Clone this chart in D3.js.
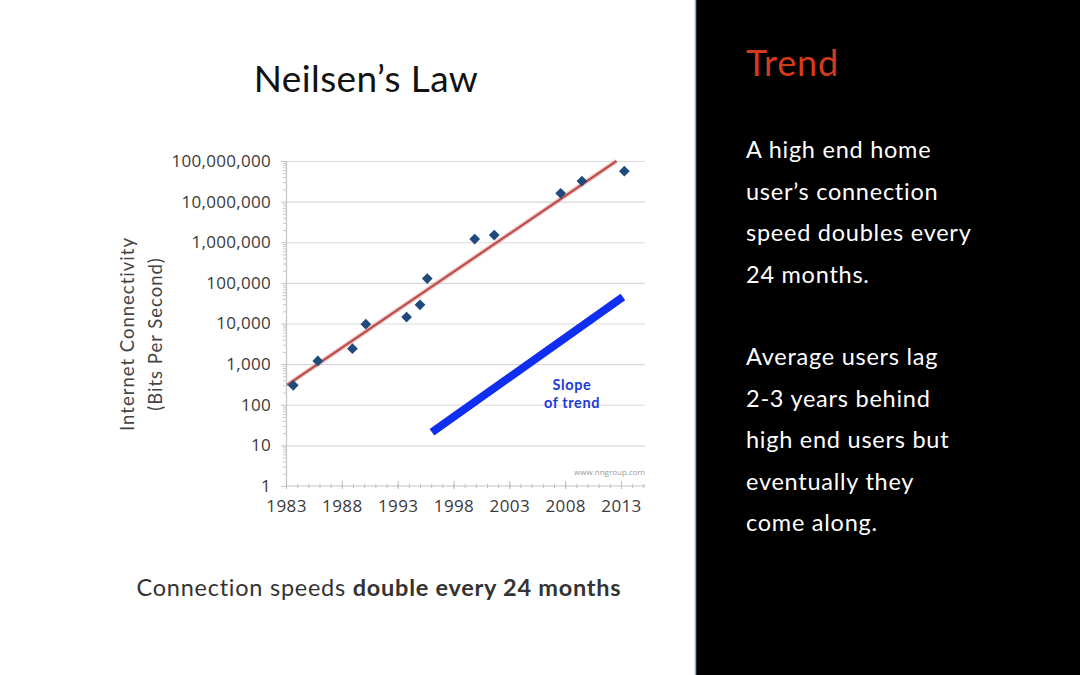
<!DOCTYPE html>
<html><head><meta charset="utf-8">
<script src="https://cdn.jsdelivr.net/npm/d3@7"></script>
<style>
html,body{margin:0;padding:0;background:#fff;}
svg{display:block;}
</style></head>
<body>
<svg id="chart" width="1080" height="675"></svg>
<script>
// ---- data ----
const years = [1983.65, 1985.85, 1988.95, 1990.15, 1993.8, 1995.0, 1995.65, 1999.9, 2001.65, 2007.6, 2009.5, 2013.3];
const speeds = [300, 1200, 2400, 9600, 14400, 28800, 128000, 1200000, 1500000, 16000000, 32000000, 56000000];
const trendYears = [1983.1, 2012.6];
const trendValues = [306, 100000000];
const slopeYears = [1996.07, 2013.17];
const slopeValues = [21, 45000];
const yTicks = [1, 10, 100, 1000, 10000, 100000, 1000000, 10000000, 100000000];
const xTicks = [1983, 1988, 1993, 1998, 2003, 2008, 2013];
const titleText = "Neilsen\u2019s Law";
const yLabel1 = "Internet Connectivity";
const yLabel2 = "(Bits Per Second)";
const captionNormal = "Connection speeds ";
const captionBold = "double every 24 months";
const sideTitle = "Trend";
const para1 = ["A high end home", "user\u2019s connection", "speed doubles every", "24 months."];
const para2 = ["Average users lag", "2-3 years behind", "high end users but", "eventually they", "come along."];

const svg = d3.select("#chart");
const W = 1080, H = 675;

// right panel
svg.append("rect").attr("x", 696).attr("y", 0).attr("width", W - 696).attr("height", H).attr("fill", "#000");
svg.append("line").attr("x1", 695.5).attr("x2", 695.5).attr("y1", 0).attr("y2", H)
  .attr("stroke", "#7fb2e0").attr("stroke-width", 1.5);

// scales
const x = d3.scaleLinear().domain([1983, 2015.15]).range([286, 645]);
const y = d3.scaleLog().domain([1, 1e8]).range([486, 161]);

const font = "'Open Sans', sans-serif";
const avenir = "Lato, 'Noto Sans', sans-serif";

// gridlines
const grid = svg.append("g").attr("transform", `translate(${x.range()[0]},0)`)
  .call(d3.axisLeft(y).tickValues(yTicks.slice(1)).tickSize(-(x.range()[1] - x.range()[0])).tickFormat(""));
grid.select(".domain").remove();
grid.selectAll("line").attr("stroke", "#dadada").attr("stroke-width", 1.2);

// y minor ticks
const minor = [];
yTicks.slice(0, -1).forEach(p => { for (let k = 2; k <= 9; k++) minor.push(p * k); });
const yMinor = svg.append("g").attr("transform", `translate(${x.range()[0]},0)`)
  .call(d3.axisLeft(y).tickValues(minor).tickSize(3).tickFormat(""));
yMinor.select(".domain").remove();
yMinor.selectAll("line").attr("stroke", "#c8c8c8");

// y axis
const yAxis = svg.append("g").attr("transform", `translate(${x.range()[0]},0)`)
  .call(d3.axisLeft(y).tickValues(yTicks).tickSize(5).tickPadding(10).tickFormat(d3.format(",")));
yAxis.select(".domain").attr("stroke", "#c4c4c4").attr("stroke-width", 1.2);
yAxis.selectAll("line").attr("stroke", "#c4c4c4");
yAxis.selectAll("text").attr("font-family", font).attr("font-size", 17).attr("fill", "#3a3a3a")
  .attr("letter-spacing", "0.3px");

// x minor ticks
const yearsAll = d3.range(1983, 2016);
const xMinor = svg.append("g").attr("transform", `translate(0,${y.range()[0] + 2})`)
  .call(d3.axisBottom(x).tickValues(yearsAll).tickSize(-4).tickFormat(""));
xMinor.select(".domain").remove();
xMinor.selectAll("line").attr("stroke", "#bdbdbd");

// x axis
const xAxis = svg.append("g").attr("transform", `translate(0,${y.range()[0]})`)
  .call(d3.axisBottom(x).tickValues(xTicks).tickSize(3).tickPadding(11).tickFormat(d3.format("d")));
xAxis.select(".domain").attr("stroke", "#c4c4c4").attr("stroke-width", 1.2).attr("d", `M${x.range()[0]},0H${x.range()[1]}`);
xAxis.selectAll("line").attr("stroke", "#bdbdbd").attr("y1", -5);
xAxis.selectAll("text").attr("font-family", font).attr("font-size", 17).attr("fill", "#3a3a3a")
  .attr("letter-spacing", "0.4px");

// trend line (red)
const trend = trendYears.map((t, i) => [t, trendValues[i]]);
const line = d3.line().x(d => x(d[0])).y(d => y(d[1]));
svg.append("path").datum(trend).attr("d", line).attr("fill", "none")
  .attr("stroke", "#c0504d").attr("stroke-opacity", 0.25).attr("stroke-width", 5);
svg.append("path").datum(trend).attr("d", line).attr("fill", "none")
  .attr("stroke", "#bf4f4c").attr("stroke-width", 2.3);

// data points (diamonds)
const pts = years.map((t, i) => [t, speeds[i]]);
svg.append("g").selectAll("path").data(pts).join("path")
  .attr("d", d3.symbol(d3.symbolSquare, 58))
  .attr("transform", d => `translate(${x(d[0])},${y(d[1])}) rotate(45)`)
  .attr("fill", "#21497c");

// slope line (blue)
const slope = slopeYears.map((t, i) => [t, slopeValues[i]]);
svg.append("path").datum(slope).attr("d", line).attr("fill", "none")
  .attr("stroke", "#0f2ef0").attr("stroke-width", 8).attr("stroke-linecap", "butt");

svg.append("text").attr("x", 572).attr("y", 389.5).attr("text-anchor", "middle")
  .attr("font-family", avenir).attr("font-weight", 700).attr("font-size", 14.5).attr("letter-spacing", "0.6px")
  .attr("fill", "#1b3bd6").text("Slope");
svg.append("text").attr("x", 572).attr("y", 407.5).attr("text-anchor", "middle")
  .attr("font-family", avenir).attr("font-weight", 700).attr("font-size", 14.5).attr("letter-spacing", "0.6px")
  .attr("fill", "#1b3bd6").text("of trend");

// watermark
svg.append("text").attr("x", 645).attr("y", 475).attr("text-anchor", "end")
  .attr("font-family", font).attr("font-size", 8).attr("fill", "#9a9a9a").text("www.nngroup.com");

// y label
const yl = svg.append("g").attr("transform", "translate(0,334)");
yl.append("text").attr("transform", "translate(134,0) rotate(-90)").attr("text-anchor", "middle")
  .attr("font-family", avenir).attr("font-size", 18.5).attr("fill", "#444").attr("letter-spacing", "1px").text(yLabel1);
yl.append("text").attr("transform", "translate(162,0) rotate(-90)").attr("text-anchor", "middle")
  .attr("font-family", avenir).attr("font-size", 18.5).attr("fill", "#444").attr("letter-spacing", "1px").text(yLabel2);

// title
svg.append("text").attr("x", 366).attr("y", 92).attr("text-anchor", "middle")
  .attr("font-family", avenir).attr("font-size", 37).attr("fill", "#111").attr("letter-spacing", "0.4px").text(titleText);

// caption
const cap = svg.append("text").attr("x", 379).attr("y", 596).attr("text-anchor", "middle")
  .attr("font-family", avenir).attr("font-size", 23.5).attr("fill", "#333").attr("letter-spacing", "0.75px");
cap.append("tspan").text(captionNormal);
cap.append("tspan").attr("font-weight", 700).text(captionBold);

// side panel text
svg.append("text").attr("x", 746).attr("y", 76).attr("font-family", avenir).attr("font-size", 36)
  .attr("fill", "#d43a1b").attr("letter-spacing", "0.8px").text(sideTitle);
svg.append("g").selectAll("text").data(para1).join("text")
  .attr("x", 746).attr("y", (d, i) => 158 + i * 41.5)
  .attr("font-family", avenir).attr("font-size", 23.5).attr("fill", "#fff").attr("letter-spacing", "0.75px").text(d => d);
svg.append("g").selectAll("text").data(para2).join("text")
  .attr("x", 746).attr("y", (d, i) => 365 + i * 41.6)
  .attr("font-family", avenir).attr("font-size", 23.5).attr("fill", "#fff").attr("letter-spacing", "0.75px").text(d => d);
</script>
</body></html>
